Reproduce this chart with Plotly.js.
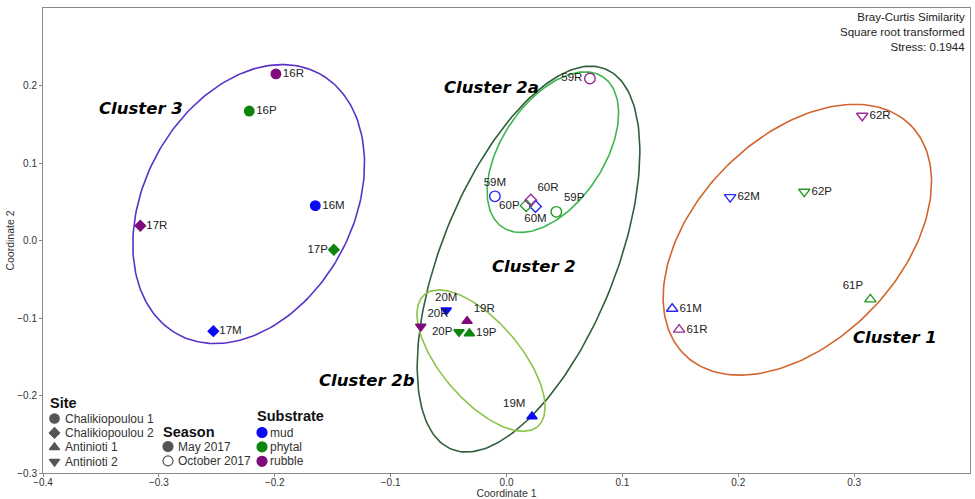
<!DOCTYPE html>
<html><head><meta charset="utf-8">
<script src="https://cdn.plot.ly/plotly-3.0.1.min.js"></script>
<style>html,body{margin:0;padding:0;background:#fff}#chart{width:975px;height:499px}</style>
</head><body><div id="chart"></div>
<script>
// ---- data ----
const samples  = ['16M','16P','16R','17M','17P','17R','19M','19P','19R','20M','20P','20R',
                  '59M','59P','59R','60M','60P','60R','61M','61P','61R','62M','62P','62R'];
const coord1   = [-0.165,-0.222,-0.199,-0.253,-0.149,-0.316, 0.022,-0.032,-0.034,-0.052,-0.041,-0.074,
                  -0.010, 0.043, 0.072, 0.025, 0.017, 0.021, 0.143, 0.314, 0.149, 0.193, 0.257, 0.307];
const coord2   = [ 0.045, 0.167, 0.215,-0.117,-0.012, 0.019,-0.227,-0.120,-0.104,-0.090,-0.118,-0.111,
                   0.057, 0.037, 0.209, 0.044, 0.045, 0.052,-0.088,-0.076,-0.115, 0.056, 0.063, 0.161];
const site     = ['Chalikiopoulou 1','Chalikiopoulou 1','Chalikiopoulou 1','Chalikiopoulou 2','Chalikiopoulou 2','Chalikiopoulou 2',
                  'Antinioti 1','Antinioti 1','Antinioti 1','Antinioti 2','Antinioti 2','Antinioti 2',
                  'Chalikiopoulou 1','Chalikiopoulou 1','Chalikiopoulou 1','Chalikiopoulou 2','Chalikiopoulou 2','Chalikiopoulou 2',
                  'Antinioti 1','Antinioti 1','Antinioti 1','Antinioti 2','Antinioti 2','Antinioti 2'];
const season   = ['May 2017','May 2017','May 2017','May 2017','May 2017','May 2017','May 2017','May 2017','May 2017','May 2017','May 2017','May 2017',
                  'October 2017','October 2017','October 2017','October 2017','October 2017','October 2017',
                  'October 2017','October 2017','October 2017','October 2017','October 2017','October 2017'];
const substrate= ['mud','phytal','rubble','mud','phytal','rubble','mud','phytal','rubble','mud','phytal','rubble',
                  'mud','phytal','rubble','mud','phytal','rubble','mud','phytal','rubble','mud','phytal','rubble'];
const labelPos = ['middle right','middle right','middle right','middle right','middle left','middle right',
                  'top left','middle right','top right','top center','middle left','top right',
                  'top center','top right','middle left','bottom center','middle left','top right',
                  'middle right','top left','middle right','middle right','middle right','middle right'];

const siteNames    = ['Chalikiopoulou 1','Chalikiopoulou 2','Antinioti 1','Antinioti 2'];
const siteSymbols  = ['circle','diamond','triangle-up','triangle-down'];
const siteSizes    = [9.5, 8, 9, 9];
const seasonNames  = ['May 2017','October 2017'];
const seasonOpen   = [false, true];
const substrateNames  = ['mud','phytal','rubble'];
const substrateColors = ['#0a0af5','#0c850c','#7d0c7a'];
const openColors      = ['#2a2af0','#229a22','#9a2c98'];

// cluster ellipses (centre, semi-axes in x-units, screen angle)
const clusterNames = ['Cluster 1','Cluster 2','Cluster 2a','Cluster 2b','Cluster 3'];
const ellCx    = [0.251, 0.019, 0.040,-0.022,-0.2225];
const ellCy    = [0.001,-0.024, 0.114,-0.155, 0.047];
const ellA     = [0.139, 0.177, 0.078, 0.075, 0.128];
const ellB     = [0.088, 0.075, 0.044, 0.034, 0.090];
const ellAngle = [45.6, 68.0, 56.2, -49.3, 61.4];
const ellColors= ['#d2652d','#2f5f3b','#3fb550','#8cc34a','#5a32c8'];
const clusterLabelX = [0.335, 0.024,-0.013,-0.120,-0.315];
const clusterLabelY = [-0.1255,-0.034, 0.198,-0.181, 0.170];

const xTicks = [-0.4,-0.3,-0.2,-0.1,0.0,0.1,0.2,0.3];
const yTicks = [-0.3,-0.2,-0.1,0.0,0.1,0.2];

// ---- layout geometry ----
const W = 975, H = 499;
const M = {l:43, r:5, t:8, b:26};
const xRange = [-0.4, 0.4], yRange = [-0.3, 0.3];
const plotW = W - M.l - M.r, plotH = H - M.t - M.b;
const aspect = ((yRange[1]-yRange[0])/plotH) / ((xRange[1]-xRange[0])/plotW);

const traces = [];

// ellipses
for (let k = 0; k < clusterNames.length; k++) {
  const th = ellAngle[k]*Math.PI/180, xs = [], ys = [];
  for (let i = 0; i <= 200; i++) {
    const p = 2*Math.PI*i/200;
    const dx = ellA[k]*Math.cos(p)*Math.cos(th) - ellB[k]*Math.sin(p)*Math.sin(th);
    const dy = ellA[k]*Math.cos(p)*Math.sin(th) + ellB[k]*Math.sin(p)*Math.cos(th);
    xs.push(ellCx[k] + dx); ys.push(ellCy[k] + dy*aspect);
  }
  traces.push({type:'scatter', mode:'lines', x:xs, y:ys, hoverinfo:'skip',
    line:{color:ellColors[k], width:1.6}, name:clusterNames[k]});
}

// samples
const symbols = [], colors = [], sizes = [];
for (let i = 0; i < samples.length; i++) {
  const si = siteNames.indexOf(site[i]);
  const open = seasonOpen[seasonNames.indexOf(season[i])];
  const ci = substrateNames.indexOf(substrate[i]);
  symbols.push(siteSymbols[si] + (open ? '-open' : ''));
  sizes.push(siteSizes[si] + (open ? 1 : 0));
  colors.push(open ? openColors[ci] : substrateColors[ci]);
}
traces.push({type:'scatter', mode:'markers+text', x:coord1, y:coord2, text:samples,
  textposition:labelPos, cliponaxis:false,
  textfont:{family:'Liberation Sans, Arial, sans-serif', size:11.5, color:'#222'},
  marker:{symbol:symbols, color:colors, size:sizes, opacity:1, line:{color:colors, width:1.4}},
  hoverinfo:'text'});

// custom legend (pixel-positioned overlay)
const legX = [], legY = [], legSym = [], legCol = [], legSize = [];
const annotations = [];
const txt = (x, y, t, size, bold) => annotations.push({xref:'x2', yref:'y2', x:x, y:y, text:bold?'<b>'+t+'</b>':t,
  showarrow:false, xanchor:'left', yanchor:'middle',
  font:{family:'Liberation Sans, Arial, sans-serif', size:size, color:bold?'#111':'#333'}});
txt(48, 403, 'Site', 14.5, true);
siteNames.forEach((n, i) => {
  const y = 418.5 + i*14.4;
  legX.push(54.5); legY.push(y); legSym.push(siteSymbols[i]); legCol.push('#555'); legSize.push(siteSizes[i]);
  txt(63, y, n, 12, false);
});
txt(161, 432, 'Season', 14.5, true);
seasonNames.forEach((n, i) => {
  const y = 446.5 + i*14.4;
  legX.push(168); legY.push(y); legSym.push(seasonOpen[i] ? 'circle-open' : 'circle'); legCol.push('#555'); legSize.push(10);
  txt(176, y, n, 12, false);
});
txt(255, 416, 'Substrate', 14.5, true);
substrateNames.forEach((n, i) => {
  const y = 432.5 + i*14.4;
  legX.push(262); legY.push(y); legSym.push('circle'); legCol.push(substrateColors[i]); legSize.push(10);
  txt(268, y, n, 12, false);
});
traces.push({type:'scatter', mode:'markers', x:legX, y:legY, xaxis:'x2', yaxis:'y2', hoverinfo:'skip',
  marker:{symbol:legSym, color:legCol, size:legSize, opacity:1, line:{color:legCol, width:1.2}}});

// cluster labels
clusterNames.forEach((n, k) => annotations.push({xref:'x', yref:'y', x:clusterLabelX[k], y:clusterLabelY[k],
  text:'<b><i>'+n+'</i></b>', showarrow:false, xanchor:'center', yanchor:'middle',
  font:{family:'DejaVu Sans, Verdana, sans-serif', size:16.5, color:'#000'}}));

// stress note
annotations.push({xref:'paper', yref:'paper', x:1, y:1, xanchor:'right', yanchor:'top', xshift:-3, yshift:-1,
  showarrow:false, align:'right',
  text:'Bray-Curtis Similarity<br>Square root transformed<br>Stress: 0.1944',
  font:{family:'Liberation Sans, Arial, sans-serif', size:11.5, color:'#222'}});

const axisBase = {ticks:'outside', ticklen:3, tickcolor:'#8a8a8a', tickwidth:1, linecolor:'#8a8a8a', linewidth:1,
  mirror:true, showgrid:false, zeroline:false, tickformat:'.1f',
  tickfont:{family:'Liberation Sans, Arial, sans-serif', size:10, color:'#333'}};

const layout = {
  width:W, height:H, margin:{l:M.l, r:M.r, t:M.t, b:M.b, pad:0},
  paper_bgcolor:'#fff', plot_bgcolor:'#fff', showlegend:false,
  font:{family:'Liberation Sans, Arial, sans-serif', color:'#222'},
  xaxis:Object.assign({}, axisBase, {range:xRange, tickvals:xTicks, ticklabelstandoff:-3,
    title:{text:'Coordinate 1', standoff:2, font:{size:10.5, color:'#333'}}}),
  yaxis:Object.assign({}, axisBase, {range:yRange, tickvals:yTicks,
    title:{text:'Coordinate 2', standoff:0, font:{size:10.5, color:'#333'}}}),
  xaxis2:{overlaying:'x', range:[M.l, W-M.r], visible:false},
  yaxis2:{overlaying:'y', range:[H-M.b, M.t], visible:false},
  annotations:annotations
};

Plotly.newPlot('chart', traces, layout, {displayModeBar:false, staticPlot:true});
</script></body></html>
